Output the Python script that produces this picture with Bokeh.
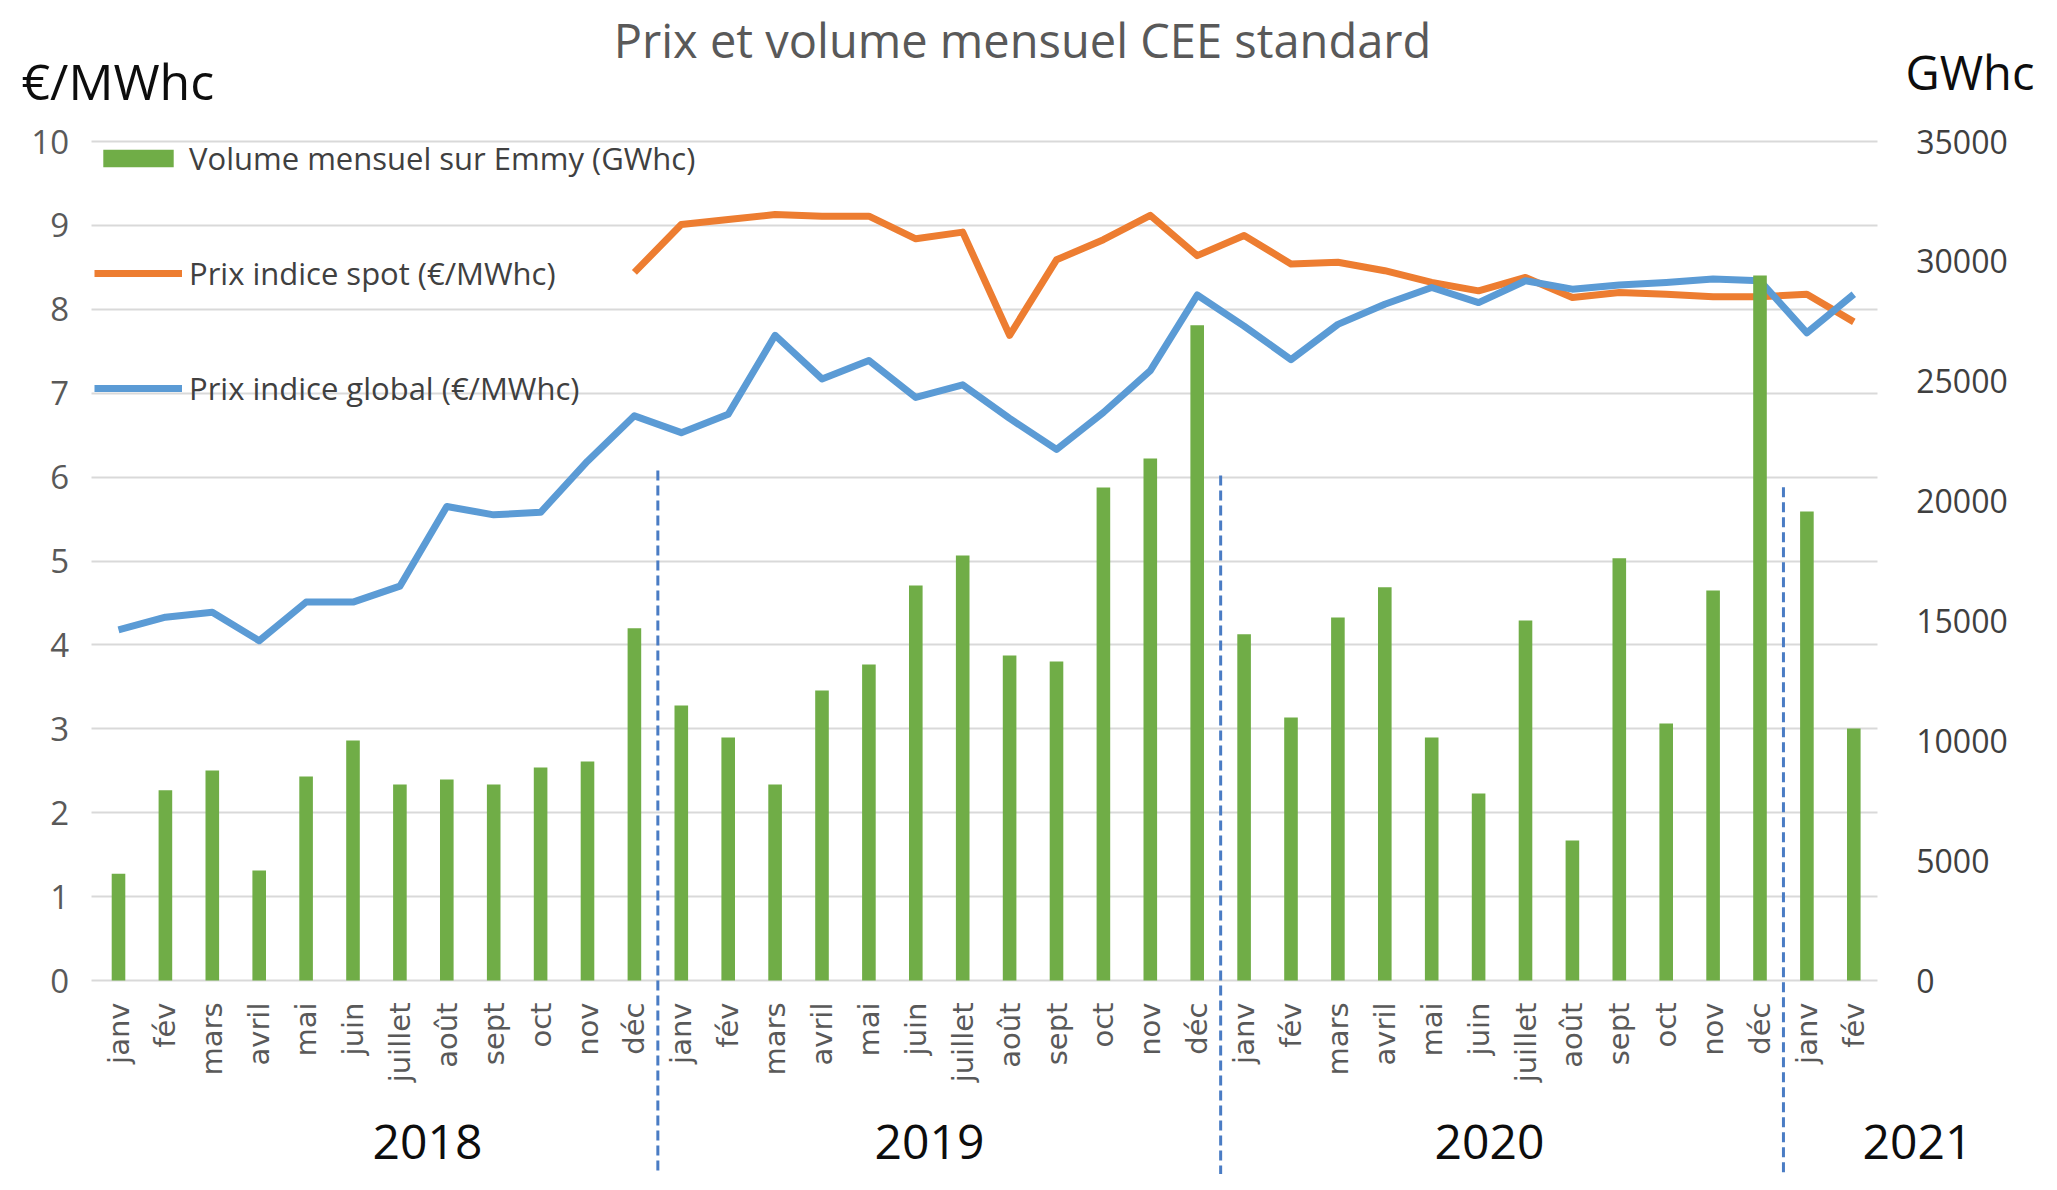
import math
from bokeh.plotting import figure
from bokeh.models import Range1d, LinearAxis, FixedTicker, Legend, LegendItem, Grid
from bokeh.core.properties import value
from bokeh.embed import file_html
from bokeh.resources import INLINE

NaN = float("nan")

# ---------------- data ----------------
month_names = ["janv", "fév", "mars", "avril", "mai", "juin", "juillet",
               "août", "sept", "oct", "nov", "déc"]
years = ["2018"] * 12 + ["2019"] * 12 + ["2020"] * 12 + ["2021"] * 2
months = month_names * 3 + ["janv", "fév"]
categories = [f"{m} {y}" for m, y in zip(months, years)]

volume_gwhc = [4450, 7940, 8760, 4590, 8510, 10010, 8180, 8390, 8180, 8890, 9140, 14690,
               11470, 10140, 8180, 12100, 13180, 16480, 17730, 13560, 13310, 20570, 21780, 27330,
               14440, 10970, 15140, 16400, 10140, 7800, 15020, 5840, 17610, 10720, 16270, 29410,
               19570, 10510]

prix_global = [4.18, 4.33, 4.39, 4.05, 4.51, 4.51, 4.70, 5.65, 5.55, 5.58, 6.19, 6.73,
               6.53, 6.75, 7.69, 7.17, 7.39, 6.95, 7.10, 6.70, 6.33, 6.77, 7.27, 8.17,
               7.80, 7.40, 7.82, 8.06, 8.26, 8.08, 8.34, 8.24, 8.29, 8.32, 8.36, 8.34,
               7.72, 8.18]

prix_spot = [NaN] * 11 + [8.44,
             9.01, 9.07, 9.13, 9.11, 9.11, 8.84, 8.92, 7.69, 8.59, 8.83, 9.12, 8.64,
             8.88, 8.54, 8.56, 8.46, 8.32, 8.22, 8.38, 8.14, 8.20, 8.18, 8.15, 8.15,
             8.18, 7.85]

year_labels = ["2018", "2019", "2020", "2021"]
left_ticks = list(range(0, 11))
right_ticks = list(range(0, 35001, 5000))
VOL_MAX = 35000.0
PRICE_MAX = 10.0

title_text = "Prix et volume mensuel CEE standard"
left_unit = "€/MWhc"
right_unit = "GWhc"
legend_labels = ["Volume mensuel sur Emmy (GWhc)", "Prix indice spot (€/MWhc)",
                 "Prix indice global (€/MWhc)"]

# ---------------- layout (pixels of the canvas) ----------------
W, H = 2041, 1174
CAT_PX = 46.9          # width of one month
X0_PX = 118            # centre of first month
PRICE_PX = 83.9        # pixels per €/MWhc
ZERO_PX = 980          # pixel row of 0

def xi(px):   # canvas pixel -> category coordinate
    return (px - X0_PX) / CAT_PX

def yv(py):   # canvas pixel -> price coordinate
    return (ZERO_PX - py) / PRICE_PX

FONT = "Open Sans"
GREY = "#595959"
ratio = VOL_MAX / PRICE_MAX

x_idx = list(range(len(categories)))
x_lo, x_hi = -0.5, len(categories) - 0.5

p = figure(x_range=Range1d(xi(0), xi(W)), y_range=Range1d(yv(H), yv(0)),
           frame_width=W, frame_height=H,
           min_border_left=0, min_border_right=0, min_border_top=0, min_border_bottom=0,
           output_backend="svg", toolbar_location=None)
p.outline_line_color = None
p.background_fill_color = "white"
p.border_fill_color = "white"
p.extra_y_ranges = {"vol": Range1d(yv(H) * ratio, yv(0) * ratio)}

# axes fixed inside the canvas
lt = FixedTicker(ticks=left_ticks)
ya = p.yaxis[0]
ya.ticker = lt
ya.fixed_location = x_lo
raxis = LinearAxis(y_range_name="vol", ticker=FixedTicker(ticks=right_ticks), fixed_location=x_hi)
p.add_layout(raxis, "right")
xa = p.xaxis[0]
xa.ticker = FixedTicker(ticks=x_idx)
xa.fixed_location = 0
xa.major_label_overrides = {i: m for i, m in zip(x_idx, months)}

for ax in [ya, raxis, xa]:
    ax.axis_line_color = None
    ax.major_tick_line_color = None
    ax.minor_tick_line_color = None
    ax.major_tick_in = 0
    ax.major_tick_out = 0
    ax.minor_tick_in = 0
    ax.minor_tick_out = 0

ya.major_label_text_font = FONT
ya.major_label_text_font_size = "33px"
ya.major_label_text_color = GREY
ya.major_label_standoff = 26

raxis.major_label_text_font = FONT
raxis.major_label_text_font_size = "32px"
raxis.major_label_text_color = "#404040"
raxis.major_label_standoff = 39

xa.major_label_orientation = math.pi / 2
xa.major_label_text_font = "DejaVu Sans"
xa.major_label_text_font_size = "29px"
xa.major_label_text_color = GREY
xa.major_label_standoff = 22

# grid lines only across the plot area
p.xgrid.visible = False
if "cross_bounds" in Grid.properties():
    p.ygrid[0].ticker = lt
    p.ygrid.cross_bounds = (x_lo - 0.08, x_hi)
    p.ygrid.grid_line_color = "#D9D9D9"
    p.ygrid.grid_line_width = 2
else:
    p.ygrid.visible = False
    p.segment(x0=[x_lo - 0.08] * len(left_ticks), x1=[x_hi] * len(left_ticks),
              y0=left_ticks, y1=left_ticks, line_color="#D9D9D9", line_width=2)

# lines (primary axis) then bars (secondary axis, drawn on top as in Excel)
r_spot = p.line(x_idx, prix_spot, line_color="#ED7D31", line_width=7, line_join="round")
r_glob = p.line(x_idx, prix_global, line_color="#5B9BD5", line_width=7, line_join="round")
r_vol = p.vbar(x=x_idx, top=volume_gwhc, width=0.29, y_range_name="vol",
               fill_color="#70AD47", line_color=None)

# year separators
boundaries = [categories.index(f"janv {y}") - 0.5 for y in year_labels[1:]]
sep_tops = [6.08, 6.02, 5.88]
p.segment(x0=boundaries, x1=boundaries, y0=sep_tops, y1=[yv(H + 10)] * 3,
          line_color="#4A7CC4", line_width=3, line_dash="10 5")

# year labels
year_px = [427, 929, 1489, 1917]
p.text(x=[xi(v) for v in year_px], y=[yv(1141)] * 4, text=year_labels,
       text_font=value(FONT), text_font_size="48px", text_color="#0d0d0d",
       text_align="center", text_baseline="middle")

# title & unit labels
p.text(x=[xi(1022)], y=[yv(39)], text=[title_text], text_font=value(FONT),
       text_font_size="47px", text_color=GREY, text_align="center", text_baseline="alphabetic")
p.text(x=[xi(21)], y=[yv(80)], text=[left_unit],
       text_font=value(FONT), text_font_size="50px", text_color="#0d0d0d",
       text_align="left", text_baseline="alphabetic")
p.text(x=[xi(1905)], y=[yv(71)], text=[right_unit],
       text_font=value(FONT), text_font_size="47px", text_color="#0d0d0d",
       text_align="left", text_baseline="alphabetic")

legend = Legend(items=[LegendItem(label=legend_labels[0], renderers=[r_vol]),
                       LegendItem(label=legend_labels[1], renderers=[r_spot]),
                       LegendItem(label=legend_labels[2], renderers=[r_glob])],
                location=(94, 765), orientation="vertical")
legend.label_text_font = FONT
legend.label_text_font_size = "31px"
legend.label_text_color = "#404040"
legend.glyph_width = 88
legend.glyph_height = 22
legend.label_height = 22
legend.label_standoff = 7
legend.spacing = 73
legend.padding = 0
legend.margin = 0
legend.border_line_color = None
legend.background_fill_alpha = 0
p.add_layout(legend)

open("out.html", "w").write(file_html(p, INLINE))
